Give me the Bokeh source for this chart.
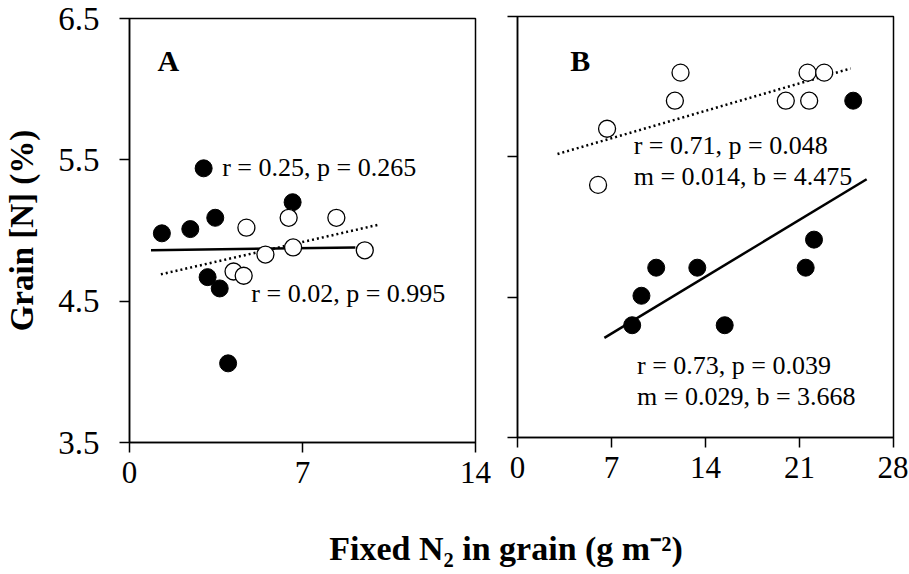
from bokeh.plotting import figure
from bokeh.models import Range1d, FixedTicker
from bokeh.layouts import column, row
from bokeh.core.properties import value
from bokeh.embed import file_html
from bokeh.resources import INLINE

FONT = "Liberation Serif"

# ---------------- data ----------------
y_ticks = [3.5, 4.5, 5.5, 6.5]
a_x_ticks = [0, 7, 14]
b_x_ticks = [0, 7, 14, 21, 28]

# Panel A
a_filled_x = [1.31, 2.46, 3.47, 3.00, 6.60, 3.16, 3.65, 3.99]
a_filled_y = [4.98, 5.01, 5.09, 5.44, 5.20, 4.67, 4.59, 4.06]
a_open_x = [4.73, 6.44, 8.37, 5.50, 6.62, 9.52, 4.21, 4.62]
a_open_y = [5.02, 5.09, 5.09, 4.83, 4.88, 4.86, 4.71, 4.68]
a_fit_solid_x = [0.87, 9.14]
a_fit_solid_y = [4.86, 4.88]
a_fit_dot_x = [1.27, 10.05]
a_fit_dot_y = [4.69, 5.04]

# Panel B
b_open_x = [6.67, 6.00, 11.72, 12.14, 19.98, 21.60, 21.72, 22.84]
b_open_y = [5.70, 5.30, 5.90, 6.10, 5.90, 6.10, 5.90, 6.10]
b_filled_x = [25.00, 22.08, 21.46, 13.39, 10.33, 9.23, 8.54, 15.43]
b_filled_y = [5.90, 4.91, 4.71, 4.71, 4.71, 4.51, 4.30, 4.30]
b_fit_solid_x = [6.47, 26.0]
b_fit_solid_y = [4.21, 5.34]
b_fit_dot_x = [2.98, 24.81]
b_fit_dot_y = [5.52, 6.13]

a_stats = ["r = 0.25, p = 0.265", "r = 0.02, p = 0.995"]
b_stats = ["r = 0.71, p = 0.048", "m = 0.014, b = 4.475",
           "r = 0.73, p = 0.039", "m = 0.029, b = 3.668"]

y_label = "Grain [N] (%)"
x_label = "Fixed N\u2082 in grain (g m\u207b\u00b2)"


def style(p, xticks, show_ylabels):
    p.xgrid.visible = False
    p.ygrid.visible = False
    p.outline_line_color = "black"
    p.outline_line_width = 1.5
    p.outline_line_alpha = 1
    p.xaxis.ticker = FixedTicker(ticks=xticks)
    p.yaxis.ticker = FixedTicker(ticks=y_ticks)
    for ax in (p.xaxis, p.yaxis):
        ax.axis_line_color = "black"
        ax.axis_line_width = 1.5
        ax.major_tick_line_color = "black"
        ax.major_tick_line_width = 1.5
        ax.major_tick_in = 0
        ax.major_tick_out = 10
        ax.minor_tick_in = 0
        ax.minor_tick_out = 0
        ax.major_label_text_font = FONT
        ax.major_label_text_color = "black"
    p.xaxis.major_label_text_font_size = "31px"
    p.yaxis.major_label_text_font_size = "33px"
    p.xaxis.major_label_standoff = 9
    p.yaxis.major_label_standoff = 20
    if not show_ylabels:
        p.yaxis.major_label_overrides = {t: "" for t in y_ticks}
        p.yaxis.major_label_standoff = 0


def draw(p, fx, fy, ox, oy, sx, sy, dx, dy):
    p.line(sx, sy, line_color="black", line_width=2.5)
    p.line(dx, dy, line_color="black", line_width=2.5, line_dash="2 3")
    p.scatter(fx, fy, size=17, marker="circle", fill_color="black", line_color="black")
    p.scatter(ox, oy, size=17, marker="circle", fill_color="white", line_color="black",
              line_width=1.3)


# ---------------- panel A ----------------
pa = figure(width=495, height=502, x_range=Range1d(0, 14), y_range=Range1d(3.5, 6.5),
            output_backend="svg", toolbar_location=None, title=None, frame_align=False,
            min_border_left=129, min_border_right=20, min_border_top=18, min_border_bottom=60)
style(pa, a_x_ticks, True)
pa.yaxis.axis_label = y_label
pa.yaxis.axis_label_text_font = FONT
pa.yaxis.axis_label_text_font_style = "bold"
pa.yaxis.axis_label_text_font_size = "33px"
pa.yaxis.axis_label_text_color = "black"
pa.yaxis.axis_label_standoff = 15
draw(pa, a_filled_x, a_filled_y, a_open_x, a_open_y,
     a_fit_solid_x, a_fit_solid_y, a_fit_dot_x, a_fit_dot_y)
pa.text(x=[1.13], y=[6.20], text=["A"], text_font=value(FONT), text_font_style="bold",
        text_font_size="30px", text_baseline="middle", text_align="left", text_color="black")
pa.text(x=[3.75, 4.93], y=[5.448, 4.553], text=a_stats, text_font=value(FONT),
        text_font_size="26px", text_baseline="middle", text_align="left", text_color="black")

# ---------------- panel B ----------------
pb = figure(width=413, height=502, x_range=Range1d(0, 28), y_range=Range1d(3.5, 6.5),
            output_backend="svg", toolbar_location=None, title=None, frame_align=False,
            min_border_left=22, min_border_right=15, min_border_top=16, min_border_bottom=65)
style(pb, b_x_ticks, False)
draw(pb, b_filled_x, b_filled_y, b_open_x, b_open_y,
     b_fit_solid_x, b_fit_solid_y, b_fit_dot_x, b_fit_dot_y)
pb.text(x=[3.93], y=[6.187], text=["B"], text_font=value(FONT), text_font_style="bold",
        text_font_size="30px", text_baseline="middle", text_align="left", text_color="black")
pb.text(x=[8.65, 8.65, 8.90, 8.90], y=[5.581, 5.361, 4.015, 3.79], text=b_stats,
        text_font=value(FONT), text_font_size="26px", text_baseline="middle",
        text_align="left", text_color="black")

# ---------------- shared x-axis title ----------------
pt = figure(width=908, height=70, x_range=Range1d(0, 908), y_range=Range1d(0, 70),
            output_backend="svg", toolbar_location=None, title=None, min_border=0,
            x_axis_location=None, y_axis_location=None)
pt.xgrid.visible = False
pt.ygrid.visible = False
pt.outline_line_color = None
pt.text(x=[505.5], y=[24], text=[x_label], text_font=value(FONT), text_font_style="bold",
        text_font_size="34px", text_baseline="middle", text_align="center",
        text_color="black")

layout = column(row(pa, pb), pt)
open("out.html", "w").write(file_html(layout, INLINE))
